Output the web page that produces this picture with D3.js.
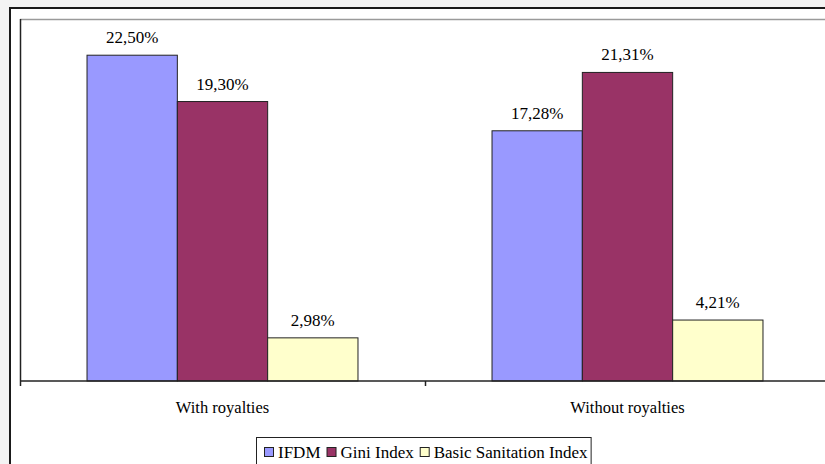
<!DOCTYPE html>
<html>
<head>
<meta charset="utf-8">
<script src="https://cdn.jsdelivr.net/npm/d3@7"></script>
</head>
<body style="margin:0;background:#f3f3f3">
<svg id="chart" width="825" height="464" style="display:block"></svg>
<script>
// Chart data
const categories = ["With royalties", "Without royalties"];
const seriesNames = ["IFDM", "Gini Index", "Basic Sanitation Index"];
const seriesColors = ["#9999FF", "#993366", "#FFFFCC"];
const ifdmValues = [22.50, 17.28];
const giniValues = [19.30, 21.31];
const sanitationValues = [2.98, 4.21];
const seriesValues = [ifdmValues, giniValues, sanitationValues];
const yDomain = [0, 25];

const FONT = '"Liberation Serif"';
const fmt = v => d3.format(".2f")(v).replace(".", ",") + "%";

const svg = d3.select("#chart");
const W = 825;

// Chart frame (extends past the right and bottom edges)
svg.append("rect")
  .attr("x", 10).attr("y", 8).attr("width", 900).attr("height", 600)
  .attr("fill", "#fff").attr("stroke", "#1a1a1a").attr("stroke-width", 2);

// Plot area
const plot = { left: 20, top: 19, right: 830, bottom: 381 };

svg.append("line")
  .attr("x1", plot.left).attr("x2", W).attr("y1", plot.top + 0.5).attr("y2", plot.top + 0.5)
  .attr("stroke", "#9a9a9a").attr("stroke-width", 1.5);

const y = d3.scaleLinear().domain(yDomain).range([plot.bottom, plot.top]);
const x = d3.scaleBand().domain(categories).range([plot.left, plot.right]).padding(0);
const xs = d3.scaleBand().domain(seriesNames).range([0, x.bandwidth()])
  .paddingInner(0).paddingOuter(0.742);

// Bars
const rows = [];
categories.forEach((c, ci) => {
  seriesNames.forEach((s, si) => {
    rows.push({ cat: c, series: s, si, value: seriesValues[si][ci] });
  });
});

svg.append("g").selectAll("rect").data(rows).join("rect")
  .attr("x", d => x(d.cat) + xs(d.series))
  .attr("y", d => y(d.value))
  .attr("width", xs.bandwidth())
  .attr("height", d => y(0) - y(d.value))
  .attr("fill", d => seriesColors[d.si])
  .attr("stroke", "#222").attr("stroke-width", 1);

// Value labels
svg.append("g").selectAll("text").data(rows).join("text")
  .attr("x", d => x(d.cat) + xs(d.series) + xs.bandwidth() / 2)
  .attr("y", d => y(d.value) - 12)
  .attr("text-anchor", "middle")
  .style("font-family", FONT)
  .style("font-size", "17px")
  .text(d => fmt(d.value));

// Y axis line
svg.append("line")
  .attr("x1", plot.left + 0.5).attr("x2", plot.left + 0.5)
  .attr("y1", plot.top).attr("y2", plot.bottom)
  .attr("stroke", "#222").attr("stroke-width", 1.5);

// X axis with ticks at category boundaries
const boundaries = categories.map(c => x(c)).concat([plot.right]);
const xAxis = d3.axisBottom(d3.scaleLinear().domain([plot.left, plot.right]).range([plot.left, plot.right]))
  .tickValues(boundaries).tickSize(5).tickFormat("");
const gx = svg.append("g").attr("transform", `translate(0,${plot.bottom})`).call(xAxis);
gx.select(".domain").attr("stroke", "#222").attr("stroke-width", 1.5)
  .attr("d", `M${plot.left},0H${plot.right}`);
gx.selectAll(".tick line").attr("stroke", "#222").attr("stroke-width", 1.5);

// Category labels
svg.append("g").selectAll("text").data(categories).join("text")
  .attr("x", d => x(d) + x.bandwidth() / 2)
  .attr("y", 413)
  .attr("text-anchor", "middle")
  .style("font-family", FONT)
  .style("font-size", "16.5px")
  .text(d => d);

// Legend
const legend = svg.append("g");
const legendBox = legend.append("rect")
  .attr("fill", "#fff").attr("stroke", "#222").attr("stroke-width", 1);
let lx = 264;
const items = legend.selectAll("g").data(seriesNames).join("g");
items.each(function (s, i) {
  const g = d3.select(this);
  g.append("rect")
    .attr("x", lx + 0.5).attr("y", 447.5).attr("width", 9).attr("height", 9)
    .attr("fill", seriesColors[i]).attr("stroke", "#222").attr("stroke-width", 1);
  const t = g.append("text")
    .attr("x", lx + 14).attr("y", 458)
    .style("font-family", FONT)
    .style("font-size", "17px")
    .text(s);
  lx += 14 + t.node().getComputedTextLength() + 6;
});
legendBox.attr("x", 256.5).attr("y", 437.5).attr("width", lx - 256 - 3).attr("height", 40);
</script>
</body>
</html>
